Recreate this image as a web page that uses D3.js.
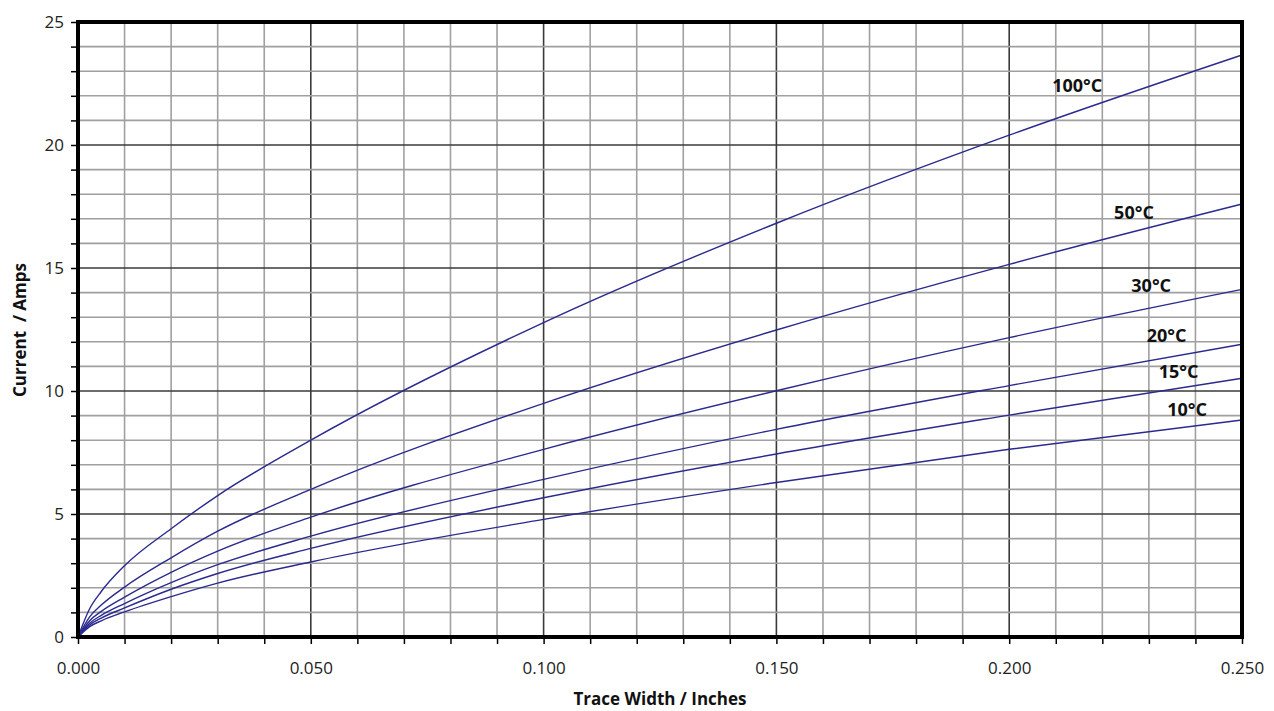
<!DOCTYPE html>
<html lang="en">
<head>
    <meta charset="UTF-8">
    <title>Trace Width vs Current</title>
    <script src="https://d3js.org/d3.v7.min.js"></script>
    <style>
        body { margin: 0; background: #fff; }
        text { font-family: "Open Sans", "DejaVu Sans", sans-serif; }
        .tick text { font-size: 17px; fill: #222; }
        .tick line { stroke: #000; stroke-width: 1.5; }
    </style>
</head>
<body>
    <div id="chart"></div>
    <script>
        // Trace width in inches (x) and current in amps (y) for each temperature rise
        const widths = [0, 0.0025, 0.005, 0.01, 0.02, 0.03, 0.05, 0.1, 0.15, 0.2, 0.25];
        const temps = ["100°C", "50°C", "30°C", "20°C", "15°C", "10°C"];
        const amps100 = [0, 1.15, 1.85, 2.9, 4.4, 5.75, 8.0, 12.78, 16.82, 20.4, 23.66];
        const amps50 = [0, 0.82, 1.3, 2.03, 3.22, 4.3, 6.0, 9.5, 12.48, 15.15, 17.6];
        const amps30 = [0, 0.66, 1.04, 1.62, 2.63, 3.49, 4.87, 7.63, 10.01, 12.17, 14.13];
        const amps20 = [0, 0.56, 0.88, 1.36, 2.21, 2.94, 4.1, 6.41, 8.44, 10.22, 11.9];
        const amps15 = [0, 0.49, 0.77, 1.18, 1.94, 2.58, 3.6, 5.66, 7.44, 9.02, 10.52];
        const amps10 = [0, 0.42, 0.66, 1.02, 1.64, 2.19, 3.05, 4.78, 6.28, 7.63, 8.82];
        // where each curve's label sits, in data units (x, y of baseline centre)
        const labelX = [0.2146, 0.2268, 0.2305, 0.2338, 0.2364, 0.2382];
        const labelY = [22.15, 16.99, 14.02, 11.99, 10.53, 9.0];

        const xTicks = d3.range(0, 0.2501, 0.01);
        const yTicks = d3.range(0, 26, 1);

        const series = [amps100, amps50, amps30, amps20, amps15, amps10];

        const margin = {top: 22, right: 32, bottom: 74, left: 78};
        const W = 1274, H = 711;
        const width = W - margin.left - margin.right;
        const height = H - margin.top - margin.bottom;

        const x = d3.scaleLinear().domain([0, 0.25]).range([0, width]);
        const y = d3.scaleLinear().domain([0, 25]).range([height, 0]);

        const svg = d3.select("#chart").append("svg")
            .attr("width", W)
            .attr("height", H);
        const g = svg.append("g")
            .attr("transform", `translate(${margin.left},${margin.top})`);

        // grid
        const isMajorX = v => Math.abs(Math.round(v * 100) % 5) === 0;
        g.append("g").selectAll("line")
            .data(xTicks.slice(1, -1))
            .join("line")
            .attr("x1", d => x(d)).attr("x2", d => x(d))
            .attr("y1", 0).attr("y2", height)
            .attr("stroke", d => isMajorX(d) ? "#3a3a3a" : "#a0a0a0")
            .attr("stroke-width", 1.6);
        g.append("g").selectAll("line")
            .data(yTicks.slice(1, -1))
            .join("line")
            .attr("x1", 0).attr("x2", width)
            .attr("y1", d => y(d)).attr("y2", d => y(d))
            .attr("stroke", d => d % 5 === 0 ? "#3a3a3a" : "#a0a0a0")
            .attr("stroke-width", 1.6);

        // axes
        g.append("g")
            .attr("transform", `translate(0,${height})`)
            .call(d3.axisBottom(x).tickValues(xTicks).tickSize(7).tickPadding(18)
                .tickFormat(d => isMajorX(d) ? d3.format(".3f")(d) : ""))
            .call(a => a.select(".domain").remove());
        g.append("g")
            .call(d3.axisLeft(y).tickValues(yTicks).tickSize(7).tickPadding(7)
                .tickFormat(d => d % 5 === 0 ? d : ""))
            .call(a => a.select(".domain").remove());

        // curves
        const line = d3.line()
            .x((d, i) => x(widths[i]))
            .y(d => y(d))
            .curve(d3.curveMonotoneX);

        g.append("g").selectAll("path")
            .data(series)
            .join("path")
            .attr("d", line)
            .attr("fill", "none")
            .attr("stroke", "#2a2a8e")
            .attr("stroke-width", 1.4);

        // curve labels
        g.append("g").selectAll("text")
            .data(temps)
            .join("text")
            .attr("x", (d, i) => x(labelX[i]))
            .attr("y", (d, i) => y(labelY[i]))
            .attr("text-anchor", "middle")
            .attr("font-size", "18px")
            .attr("font-weight", "bold")
            .attr("fill", "#111")
            .text(d => d);

        // frame
        g.append("rect")
            .attr("x", 0).attr("y", 0)
            .attr("width", width).attr("height", height)
            .attr("fill", "none")
            .attr("stroke", "#000")
            .attr("stroke-width", 4);

        // axis titles
        svg.append("text")
            .attr("x", margin.left + width / 2)
            .attr("y", 705)
            .attr("text-anchor", "middle")
            .attr("font-size", "17px")
            .attr("font-weight", "bold")
            .attr("fill", "#111")
            .text("Trace Width / Inches");

        svg.append("text")
            .attr("transform", `translate(26,330) rotate(-90)`)
            .attr("text-anchor", "middle")
            .attr("font-size", "17px")
            .attr("font-weight", "bold")
            .attr("fill", "#111")
            .attr("xml:space", "preserve")
            .style("white-space", "pre")
            .text("Current  / Amps");
    </script>
</body>
</html>
